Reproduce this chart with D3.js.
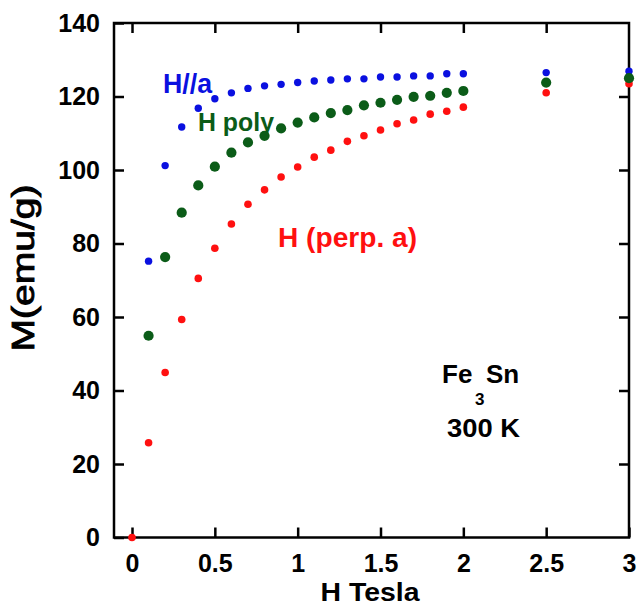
<!DOCTYPE html>
<html>
<head>
<meta charset="utf-8">
<script src="https://cdn.jsdelivr.net/npm/d3@7"></script>
<style>
  html, body { margin: 0; padding: 0; background: #fff; }
  svg { display: block; }
  text { font-family: "Liberation Sans", Arial, sans-serif; font-weight: bold; }
</style>
</head>
<body>
<svg id="chart" width="644" height="609"></svg>
<script>
// ---- Data ----
const fieldTesla = [0.1, 0.2, 0.3, 0.4, 0.5, 0.6, 0.7, 0.8, 0.9, 1.0, 1.1, 1.2, 1.3, 1.4, 1.5, 1.6, 1.7, 1.8, 1.9, 2.0, 2.5, 3.0];
const mParallelA = [75.2, 101.2, 111.7, 116.8, 119.4, 121.0, 122.2, 122.9, 123.3, 123.8, 124.2, 124.5, 124.8, 124.8, 125.3, 125.3, 125.6, 125.6, 126.2, 126.2, 126.5, 126.9];
const mPoly = [54.9, 76.3, 88.4, 95.8, 100.9, 104.7, 107.5, 109.3, 111.3, 112.9, 114.3, 115.5, 116.3, 117.6, 118.3, 119.1, 119.9, 120.2, 121.0, 121.5, 123.8, 125.0];
const fieldTeslaPerp = [0, 0.1, 0.2, 0.3, 0.4, 0.5, 0.6, 0.7, 0.8, 0.9, 1.0, 1.1, 1.2, 1.3, 1.4, 1.5, 1.6, 1.7, 1.8, 1.9, 2.0, 2.5, 3.0];
const mPerpA = [0, 25.8, 44.9, 59.3, 70.5, 78.7, 85.3, 90.7, 94.6, 98.1, 100.8, 103.5, 105.4, 107.8, 109.3, 110.9, 112.6, 113.6, 115.2, 116.0, 117.1, 121.0, 123.5];
const xTickValues = [0, 0.5, 1, 1.5, 2, 2.5, 3];
const xTickLabels = ["0", "0.5", "1", "1.5", "2", "2.5", "3"];
const yTickValues = [0, 20, 40, 60, 80, 100, 120, 140];
const yTickLabels = ["0", "20", "40", "60", "80", "100", "120", "140"];

// ---- Layout ----
const svg = d3.select("#chart");
const plotLeft = 114, plotRight = 629, plotTop = 23, plotBottom = 537.5;
const x = d3.scaleLinear().domain([-0.1087, 3]).range([plotLeft, plotRight]);
const y = d3.scaleLinear().domain([0, 140]).range([plotBottom, plotTop]);

const colBlue = "#0a10e0", colGreen = "#0b5c18", colRed = "#ff1010";

// Axes
const xAxis = d3.axisBottom(x).tickValues(xTickValues)
  .tickFormat((d, i) => xTickLabels[i]).tickSizeInner(-10).tickSizeOuter(0).tickPadding(17);
const gx = svg.append("g").attr("transform", `translate(0,${plotBottom})`).call(xAxis);
const yAxis = d3.axisLeft(y).tickValues(yTickValues)
  .tickFormat((d, i) => yTickLabels[i]).tickSizeInner(-10).tickSizeOuter(0).tickPadding(14);
const gy = svg.append("g").attr("transform", `translate(${plotLeft},0)`).call(yAxis);
const gt = svg.append("g").attr("transform", `translate(0,${plotTop})`)
  .call(d3.axisTop(x).tickValues(xTickValues.slice(0, -1)).tickFormat("").tickSizeInner(-10).tickSizeOuter(0));
const gr = svg.append("g").attr("transform", `translate(${plotRight},0)`)
  .call(d3.axisRight(y).tickValues(yTickValues.slice(1, -1)).tickFormat("").tickSizeInner(-10).tickSizeOuter(0));

[gx, gy, gt, gr].forEach(g => {
  g.select(".domain").remove();
  g.selectAll(".tick line").attr("stroke", "#000").attr("stroke-width", 2.5);
  g.selectAll(".tick text").attr("fill", "#000").style("font-size", "25px")
    .style("font-family", "'Liberation Sans', Arial, sans-serif").style("font-weight", "bold");
});

// Frame
svg.append("rect").attr("x", plotLeft).attr("y", plotTop)
  .attr("width", plotRight - plotLeft).attr("height", plotBottom - plotTop)
  .attr("fill", "none").attr("stroke", "#000").attr("stroke-width", 2.5);

// Axis titles
svg.append("text").attr("x", 370).attr("y", 601).attr("text-anchor", "middle")
  .style("font-size", "26px").attr("textLength", 99).attr("lengthAdjust", "spacingAndGlyphs")
  .text("H Tesla");
svg.append("text").attr("transform", "translate(34,268) rotate(-90)").attr("text-anchor", "middle")
  .style("font-size", "32px").style("font-weight", "normal").style("stroke", "#000").style("stroke-width", 0.9)
  .attr("textLength", 167).attr("lengthAdjust", "spacingAndGlyphs")
  .text("M(emu/g)");

// Points
function plotSeries(xs, ys, color, r) {
  svg.append("g").selectAll("circle").data(xs.map((d, i) => [d, ys[i]])).join("circle")
    .attr("cx", d => x(d[0])).attr("cy", d => y(d[1])).attr("r", r).attr("fill", color);
}
plotSeries(fieldTesla, mParallelA, colBlue, 3.7);
plotSeries(fieldTeslaPerp, mPerpA, colRed, 3.8);
svg.append("g").selectAll("path").data(fieldTesla.map((d, i) => [d, mPoly[i]])).join("path")
  .attr("transform", d => `translate(${x(d[0])},${y(d[1])})`)
  .attr("d", d3.symbol().type(d3.symbolCircle).size(82))
  .attr("fill", colGreen);

// Annotations
svg.append("text").attr("x", 163).attr("y", 93).attr("fill", colBlue)
  .style("font-size", "27px").attr("textLength", 49).attr("lengthAdjust", "spacingAndGlyphs").text("H//a");
svg.append("text").attr("x", 198).attr("y", 131).attr("fill", colGreen)
  .style("font-size", "26px").attr("textLength", 76).attr("lengthAdjust", "spacingAndGlyphs").text("H poly");
svg.append("text").attr("x", 278).attr("y", 247).attr("fill", colRed)
  .style("font-size", "27px").attr("textLength", 139).attr("lengthAdjust", "spacingAndGlyphs").text("H (perp. a)");
svg.append("text").attr("x", 442).attr("y", 383).attr("fill", "#000")
  .style("font-size", "26px").text("Fe");
svg.append("text").attr("x", 475).attr("y", 405).attr("fill", "#000")
  .style("font-size", "17px").text("3");
svg.append("text").attr("x", 486).attr("y", 383).attr("fill", "#000")
  .style("font-size", "26px").text("Sn");
svg.append("text").attr("x", 447).attr("y", 437).attr("fill", "#000")
  .style("font-size", "26px").attr("textLength", 73).attr("lengthAdjust", "spacingAndGlyphs").text("300 K");
</script>
</body>
</html>
